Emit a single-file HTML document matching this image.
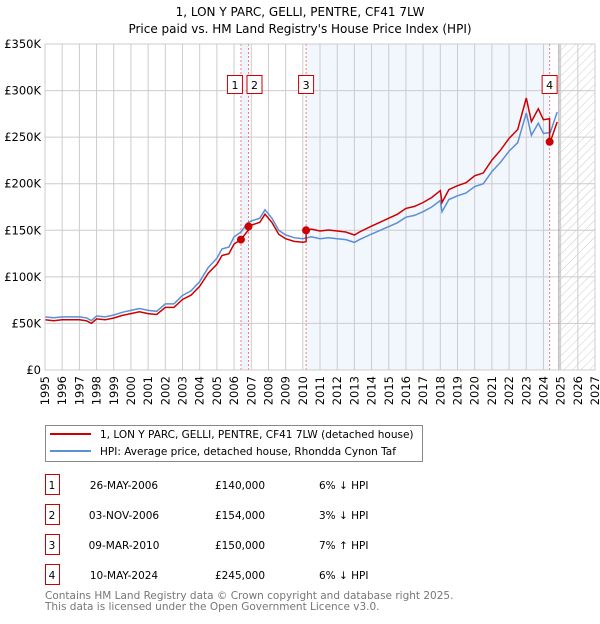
<!DOCTYPE html>
<html><head><meta charset="utf-8"><style>
body{margin:0;background:#fff;font-family:"DejaVu Sans","Liberation Sans",sans-serif;}
svg text{font-family:"DejaVu Sans","Liberation Sans",sans-serif;}
</style></head><body>
<svg id="c" width="600" height="620" xmlns="http://www.w3.org/2000/svg">
<defs><pattern id="hatch" width="6" height="6" patternUnits="userSpaceOnUse" patternTransform="rotate(45)"><line x1="0" y1="0" x2="0" y2="6" stroke="#ccc" stroke-width="1"/></pattern></defs>
<text x="300" y="16" text-anchor="middle" font-size="12">1, LON Y PARC, GELLI, PENTRE, CF41 7LW</text>
<text x="300" y="33" text-anchor="middle" font-size="12">Price paid vs. HM Land Registry's House Price Index (HPI)</text>
<g id="plot"></g>
<g>
<rect x="45.5" y="425.5" width="377" height="36" fill="#fff" stroke="#888"/>
<line x1="50" y1="434" x2="91" y2="434" stroke="#cc0000" stroke-width="2"/>
<text x="100" y="438" font-size="10.5">1, LON Y PARC, GELLI, PENTRE, CF41 7LW (detached house)</text>
<line x1="50" y1="451" x2="91" y2="451" stroke="#5b8fd6" stroke-width="2"/>
<text x="100" y="455" font-size="10.5">HPI: Average price, detached house, Rhondda Cynon Taf</text>
</g>
<g id="table" font-size="10.5"></g>
<text x="45" y="599" font-size="10.5" fill="#777">Contains HM Land Registry data © Crown copyright and database right 2025.</text>
<text x="45" y="610" font-size="10.5" fill="#777">This data is licensed under the Open Government Licence v3.0.</text>
</svg>
<script>
const hpiDates=[1995,1995.5,1996,1996.5,1997,1997.4,1997.7,1998,1998.5,1999,1999.5,2000,2000.5,2001,2001.5,2002,2002.5,2003,2003.5,2004,2004.5,2005,2005.3,2005.7,2006,2006.4,2006.8,2007,2007.5,2007.8,2008.2,2008.6,2009,2009.5,2010,2010.5,2011,2011.5,2012,2012.5,2013,2013.3,2014,2014.5,2015,2015.5,2016,2016.5,2017,2017.5,2018,2018.1,2018.5,2019,2019.5,2020,2020.5,2021,2021.5,2022,2022.5,2023,2023.3,2023.7,2024,2024.4,2024.8];
const hpiValues=[57,56,57,57,57,56,53,58,57,59,62,64,66,64,63,71,71,80,85,95,110,120,130,132,143,148,158,160,163,172,163,150,145,142,141,143,141,142,141,140,137,140,146,150,154,158,164,166,170,175,182,170,183,187,190,197,200,213,223,235,244,276,252,265,254,255,277];
const saleDates=[2006.4,2006.84,2010.19,2024.36];
const salePrices=[140,154,150,245];
const saleLabels=["1","2","3","4"];
const saleDateText=["26-MAY-2006","03-NOV-2006","09-MAR-2010","10-MAY-2024"];
const salePriceText=["£140,000","£154,000","£150,000","£245,000"];
const saleHpiText=["6% ↓ HPI","3% ↓ HPI","7% ↑ HPI","6% ↓ HPI"];
const yTicks=[0,50,100,150,200,250,300,350];
const yTickLabels=["£0","£50K","£100K","£150K","£200K","£250K","£300K","£350K"];
const xTicks=[1995,1996,1997,1998,1999,2000,2001,2002,2003,2004,2005,2006,2007,2008,2009,2010,2011,2012,2013,2014,2015,2016,2017,2018,2019,2020,2021,2022,2023,2024,2025,2026,2027];

const X0=45,X1=595,Y0=370,Y1=44;
const xs=d=>X0+(d-1995)/(2027-1995)*(X1-X0);
const ys=v=>Y0-v/350*(Y0-Y1);
const NS="http://www.w3.org/2000/svg";
const plot=document.getElementById('plot');
function mk(tag,attrs,parent){const e=document.createElementNS(NS,tag);for(const k in attrs)e.setAttribute(k,attrs[k]);(parent||plot).appendChild(e);return e;}
function hpiAt(d){for(let i=0;i<hpiDates.length-1;i++){if(d<=hpiDates[i+1]){const t=(d-hpiDates[i])/(hpiDates[i+1]-hpiDates[i]);return hpiValues[i]+t*(hpiValues[i+1]-hpiValues[i]);}}return hpiValues[hpiValues.length-1];}

let r=mk('rect',{x:xs(saleDates[0]),y:Y1,width:xs(saleDates[1])-xs(saleDates[0]),height:Y0-Y1,fill:'#eef3fc'});

r=mk('rect',{x:xs(saleDates[2]),y:Y1,width:xs(saleDates[3])-xs(saleDates[2]),height:Y0-Y1,fill:'#f2f6fd'});

r=mk('rect',{x:xs(2024.9),y:Y1,width:X1-xs(2024.9),height:Y0-Y1,fill:'url(#hatch)'});


yTicks.forEach((v,i)=>{
 const l=mk('line',{x1:X0,x2:X1,y1:ys(v),y2:ys(v),stroke:'#ccc','stroke-width':1});
 
 const t=mk('text',{x:X0-4,y:ys(v)+4,'text-anchor':'end','font-size':'11.5'});t.textContent=yTickLabels[i];
 
});
xTicks.forEach(d=>{
 const l=mk('line',{x1:xs(d),x2:xs(d),y1:Y1,y2:Y0,stroke:'#ccc','stroke-width':1});
 
 const t=mk('text',{x:0,y:0,'font-size':'11.5','text-anchor':'end',transform:`translate(${xs(d)+4},${Y0+6}) rotate(-90)`});t.textContent=d;
 
});
let a=mk('line',{x1:xs(2024.9),x2:xs(2024.9),y1:Y1,y2:Y0,stroke:'#999','stroke-width':1});


saleDates.forEach((d,i)=>{
 const l=mk('line',{x1:xs(d),x2:xs(d),y1:Y1,y2:Y0,stroke:'#f08080','stroke-width':1,'stroke-dasharray':'2,2'});
 
});

// HPI line
let p=hpiDates.map((d,i)=>(i?'L':'M')+xs(d).toFixed(1)+','+ys(hpiValues[i]).toFixed(1)).join('');
let hl=mk('path',{d:p,fill:'none',stroke:'#5b8fd6','stroke-width':1.5});


// property line: HPI scaled by ratio at most recent sale
function ratioAt(d){let k=0;for(let i=0;i<saleDates.length;i++)if(d>=saleDates[i])k=i;return salePrices[k]/hpiAt(saleDates[k]);}
const pts=[];
hpiDates.forEach((d,i)=>{saleDates.forEach((s,j)=>{if(s>(i?hpiDates[i-1]:0)&&s<=d){pts.push([s,hpiAt(s)*ratioAt(s-0.001)]);pts.push([s,salePrices[j]]);}});pts.push([d,hpiValues[i]*ratioAt(d)]);});
p=pts.map((q,i)=>(i?'L':'M')+xs(q[0]).toFixed(1)+','+ys(q[1]).toFixed(1)).join('');
let pl=mk('path',{d:p,fill:'none',stroke:'#cc0000','stroke-width':1.5});


saleDates.forEach((d,i)=>{
 const c=mk('circle',{cx:xs(d),cy:ys(salePrices[i]),r:4,fill:'#cc0000'});
 
 const off=i===0?-6:(i===1?6:0);
 const b=mk('rect',{x:xs(d)+off-7.5,y:75.5,width:15,height:18,fill:'#fff',stroke:'#cc0000'});
 
 const t=mk('text',{x:xs(d)+off,y:89,'text-anchor':'middle','font-size':'11'});t.textContent=saleLabels[i];
 
});
let fr=mk('rect',{x:X0,y:Y1,width:X1-X0,height:Y0-Y1,fill:'none',stroke:'#ccc'});


const tbl=document.getElementById('table');
saleLabels.forEach((lab,i)=>{
 const y=488+i*30;
 const b=mk('rect',{x:45.5,y:y-13.5,width:14,height:20,fill:'#fff',stroke:'#cc0000'},tbl);
 
 const cells=[[52,lab,'middle'],[124,saleDateText[i],'middle'],[240,salePriceText[i],'middle'],[319,saleHpiText[i],'start']];
 cells.forEach(c=>{const t=mk('text',{x:c[0],y:y+1,'text-anchor':c[2]},tbl);t.textContent=c[1];
  });
});
</script>
</body></html>
